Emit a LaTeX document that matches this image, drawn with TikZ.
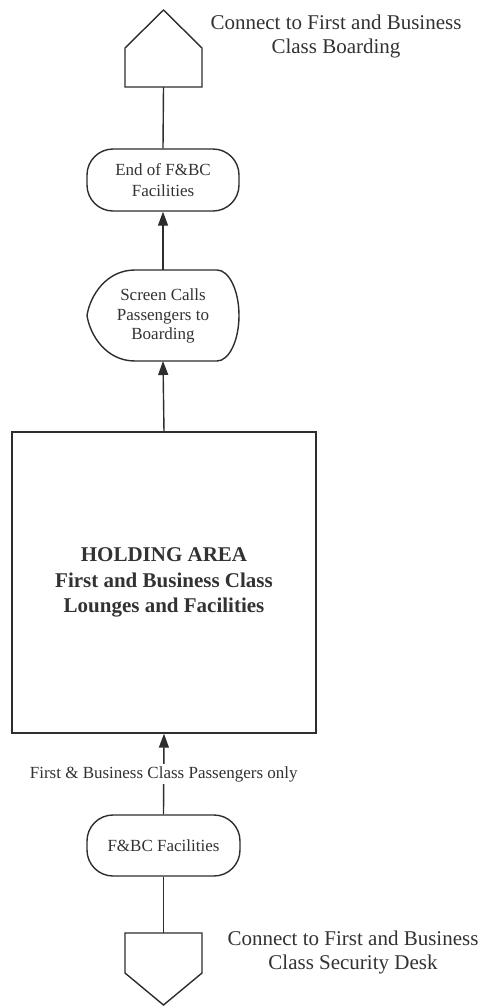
\documentclass[tikz,border=0pt]{standalone}
\usepackage{fontspec}
\setmainfont{Liberation Serif}
\usetikzlibrary{arrows.meta}
\definecolor{inkc}{RGB}{45,45,45}
\definecolor{textc}{RGB}{50,50,50}
\begin{document}
\begin{tikzpicture}[x=1pt,y=-1pt,
  ink/.style={draw=inkc, line width=1.4pt},
  anchorbox/.style={inner sep=0pt, outer sep=0pt},
  flow/.style={draw=inkc, line width=1.4pt, -{Triangle[length=14pt,width=10pt]}},
  small/.style={font=\fontsize{17}{19.5}\selectfont, text=textc, align=center, inner sep=0pt},
  big/.style={font=\fontsize{21}{24}\selectfont, text=textc, align=center, inner sep=0pt},
  terminal/.style={ink, rounded corners=26pt, inner sep=0pt, align=center,
    font=\fontsize{17}{21}\selectfont, text=textc}
]
\useasboundingbox (0,0) rectangle (482,1007);

% off-page connector at the top
\node[anchorbox, minimum width=77pt, minimum height=77pt] (boarding) at (163.5,48.5) {};
\draw[ink, line join=miter] (125,87) -- (125,48) -- (163.5,10) -- (202,48) -- (202,87) -- cycle;
\node[big] (boardlabel) at (336,36.5) {Connect to First and Business\\Class Boarding};

% end of facilities terminal
\node[terminal, minimum width=152pt, minimum height=62pt] (endfac) at (163,180)
  {End of F\&BC\\Facilities};

% display shape
\node[anchorbox, minimum width=152pt, minimum height=91pt] (screen) at (163,315.5) {};
\draw[ink] (217,270) -- (135,270)
  .. controls (106,270) and (90,296) .. (87,315.5)
  .. controls (90,335) and (106,361) .. (135,361)
  -- (217,361)
  .. controls (229,361) and (239,340.6) .. (239,315.5)
  .. controls (239,290.4) and (229,270) .. (217,270) -- cycle;
\node[small] (screentext) at (163,316) {Screen Calls\\Passengers to\\Boarding};

% holding area
\node[ink, minimum width=304pt, minimum height=301pt, inner sep=0pt, align=center,
  font=\fontsize{21}{25.5}\selectfont\bfseries, text=textc] (holding) at (164,582.5)
  {HOLDING AREA\\First and Business Class\\Lounges and Facilities};

% facilities terminal
\node[terminal, minimum width=153pt, minimum height=61pt] (fbc) at (163.5,845.5)
  {F\&BC Facilities};

% off-page connector at the bottom
\node[anchorbox, minimum width=77pt, minimum height=72pt] (security) at (163.5,969) {};
\draw[ink, line join=miter] (125,933) -- (202,933) -- (202,973) -- (163.5,1005) -- (125,973) -- cycle;
\node[big] (seclabel) at (353,952) {Connect to First and Business\\Class Security Desk};

% connectors
\draw[ink] (boarding.south) -- (endfac.north);
\draw[flow] (screen.north) -- (endfac.south);
\draw[flow] (holding.north |- 0,432) -- (screen.south);
\draw[flow] (fbc.north) -- node[small, fill=white, inner sep=2pt] (onlylabel)
  {First \& Business Class Passengers only} (holding.south);
\draw[ink] (security.north) -- (fbc.south);
\end{tikzpicture}
\end{document}
